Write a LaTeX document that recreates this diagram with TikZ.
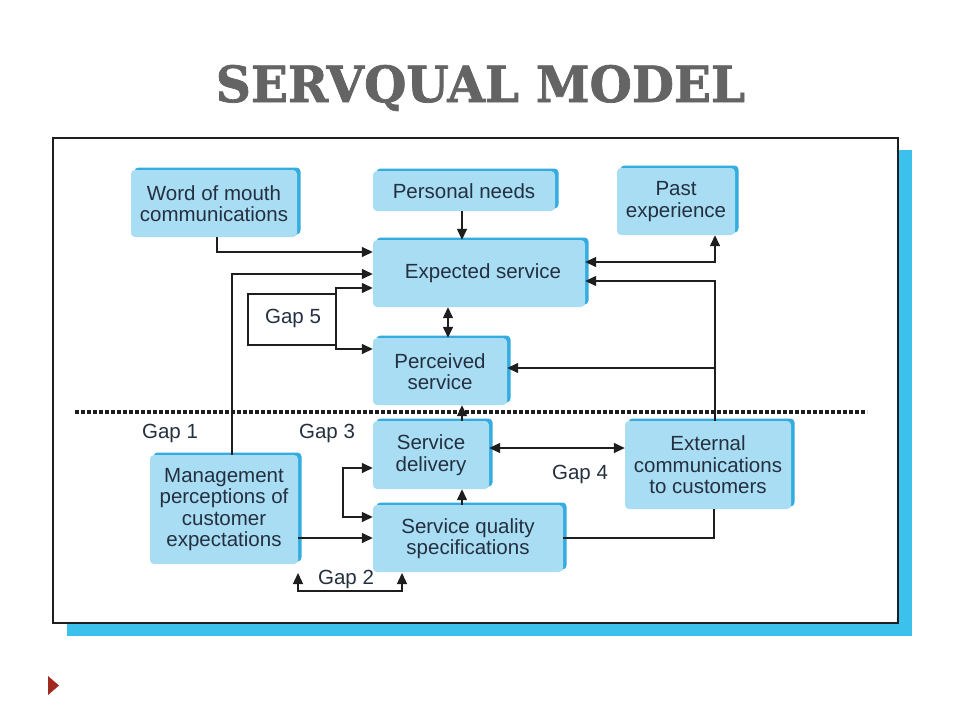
\documentclass[tikz,border=0pt]{standalone}
\usepackage{fontspec}
\usepackage{graphicx}
\setmainfont{Liberation Sans}
\newfontfamily\titlefont[FakeBold=1.5]{DejaVu Serif}
\usetikzlibrary{arrows.meta,shadows}
\definecolor{boxfill}{HTML}{A8DDF4}
\definecolor{bevel}{HTML}{34ACE0}
\definecolor{frameshadow}{HTML}{3CC0EC}
\definecolor{txtcol}{HTML}{243040}
\definecolor{ttlcol}{HTML}{646464}
\definecolor{linecol}{HTML}{1E1E1E}
\definecolor{tricol}{HTML}{A12A1E}
\begin{document}
\begin{tikzpicture}[x=1pt,y=-1pt,
  box/.style={fill=boxfill, draw=none, rounded corners=4pt, inner sep=0pt, align=center,
    text=txtcol, font=\fontsize{20.5}{21.5}\selectfont,
    copy shadow={shadow xshift=3.5pt, shadow yshift=2.5pt, fill=bevel, draw=none}},
  gaplabel/.style={text=txtcol, font=\fontsize{20.5}{21.5}\selectfont, inner sep=0pt},
  conn/.style={draw=linecol, line width=1.4pt},
  arr/.style={conn, -{Triangle[length=11pt,width=10pt]}},
  darr/.style={conn, {Triangle[length=11pt,width=10pt]}-{Triangle[length=11pt,width=10pt]}}]
\useasboundingbox (0,0) rectangle (960,720);
\fill[white] (0,0) rectangle (960,720);
% title
\node[anchor=base, text=ttlcol, inner sep=0pt] (title) at (480.5,102)
  {\resizebox{529pt}{37pt}{\titlefont\bfseries SERVQUAL MODEL}};
% frame
\fill[frameshadow] (67,150) rectangle (912,636);
\draw[fill=white, draw=linecol, line width=1.5pt] (53,138) rectangle (898,623);
% dotted divider
\draw[linecol, line width=4pt, dash pattern=on 4pt off 2pt] (75,412) -- (867,412);
% boxes
\node[box, minimum width=166pt, minimum height=67pt] (wom) at (214,203.5) {Word of mouth\\communications};
\node[box, minimum width=182pt, minimum height=40pt] (pn) at (464,191) {Personal needs};
\node[box, minimum width=118pt, minimum height=67pt] (past) at (676,201.5) {Past\\experience};
\node[box, minimum width=212pt, minimum height=67pt] (exp) at (479,273.5) {\hspace*{8pt}Expected service};
\node[box, minimum width=134pt, minimum height=67pt] (perc) at (440,371.5) {Perceived\\service};
\node[box, minimum width=116pt, minimum height=68pt] (sd) at (431,455) {Service\\delivery};
\node[box, minimum width=190pt, minimum height=67pt] (sqs) at (468,538.5) {Service quality\\specifications};
\node[box, minimum width=148pt, minimum height=109pt] (mgmt) at (224,509.5) {Management\\perceptions of\\customer\\expectations};
\node[box, minimum width=166pt, minimum height=88pt] (ext) at (708,465) {External\\communications\\to customers};
% gap labels
\node[gaplabel] (g1) at (170,433) {Gap 1};
\node[gaplabel] (g2) at (346,579) {Gap 2};
\node[gaplabel] (g3) at (327,433) {Gap 3};
\node[gaplabel] (g4) at (580,474) {Gap 4};
\node[gaplabel] (g5) at (293,318) {Gap 5};
% connectors
\draw[arr] (wom.south -| 217,0) |- (exp.west |- 0,252);
\draw[arr] (pn.south -| 462,0) -- (exp.north -| 462,0);
\draw[darr] (exp.east |- 0,262) -| (past.south -| 715,0);
\draw[arr] (ext.north -| 715,0) |- (exp.east |- 0,281);
\coordinate (extbranch) at (715,368);
\draw[arr] (extbranch) -- (perc.east |- extbranch);
\draw[arr] (mgmt.north -| 232,0) |- (exp.west |- 0,274);
% gap 5
\draw[conn] (336,294) -- (248,294) -- (248,345) -- (336,345);
\draw[darr] (exp.west |- 0,288) -- (336,288) -- (336,349) -- (perc.west |- 0,349);
\draw[darr] (exp.south -| 448,0) -- (perc.north -| 448,0);
% lower part
\draw[arr] (sd.north -| 462,0) -- (perc.south -| 462,0);
\draw[arr] (sqs.north -| 462,0) -- (sd.south -| 462,0);
\draw[darr] (sd.east |- 0,448) -- (ext.west |- 0,448);
\draw[conn] (sqs.east |- 0,538) -| (ext.south -| 714,0);
\draw[arr] (mgmt.east |- 0,538) -- (sqs.west |- 0,538);
\draw[darr] (sd.west |- 0,468) -- (343,468) -- (343,517) -- (sqs.west |- 0,517);
\coordinate (g2a) at (298,573);
\coordinate (g2b) at (402,573);
\draw[darr] (g2a) -- (298,591) -- (402,591) -- (g2b);
% bullet triangle
\fill[tricol] (48,676) -- (59,685.5) -- (48,695) -- cycle;
\end{tikzpicture}
\end{document}
